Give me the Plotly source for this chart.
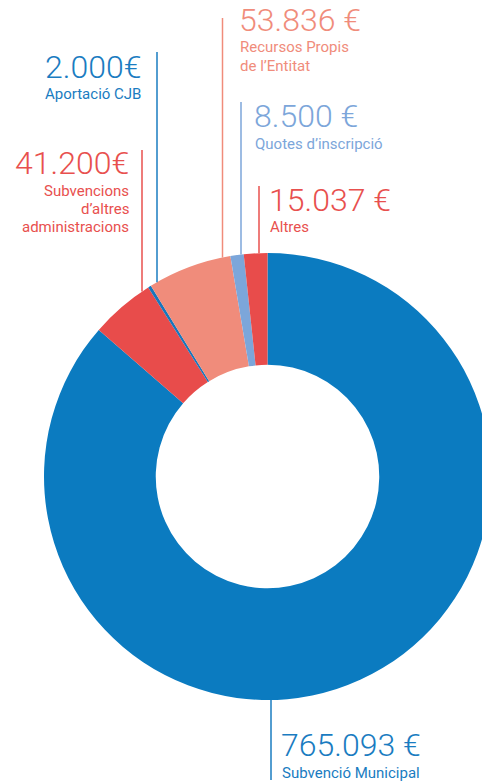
import math
import plotly.graph_objects as go

# ---------------- data ----------------
labels = ["Subvenció Municipal", "Subvencions d'altres administracions", "Aportació CJB",
          "Recursos Propis de l'Entitat", "Quotes d'inscripció", "Altres"]
values = [765093, 41200, 2000, 53836, 8500, 15037]
value_text = ["765.093 €", "41.200€", "2.000€", "53.836 €", "8.500 €", "15.037 €"]
desc_lines = [["Subvenció Municipal"],
              ["Subvencions", "d’altres", "administracions"],
              ["Aportació CJB"],
              ["Recursos Propis", "de l’Entitat"],
              ["Quotes d’inscripció"],
              ["Altres"]]
slice_colors = ["#0b7bc0", "#e84c4b", "#1876bc", "#f08c7b", "#7ca6da", "#e84c4b"]
text_colors = ["#1a7cc1", "#e8504e", "#1a7cc1", "#f08c7b", "#7ca6da", "#e8504e"]

# ---------------- layout geometry (pixels) ----------------
W, H = 500, 784
CX, CY, R = 267.5, 476.5, 223.5
HOLE = 0.5
FONT = "Roboto"
BIG, SMALL, LINE_GAP = 32, 15, 18.5

# per label: anchor side, text x, value-text y (cap middle), first desc y, leader x, leader top y
placement = [
    dict(side="left", tx=280, vy=745, dy=773, lx=271, ly=None),
    dict(side="right", tx=130, vy=163, dy=190.5, lx=142, ly=150),
    dict(side="right", tx=142, vy=67.5, dy=94, lx=157, ly=52),
    dict(side="left", tx=238, vy=20, dy=47.5, lx=222.5, ly=18),
    dict(side="left", tx=253, vy=115.5, dy=143.5, lx=241, ly=102),
    dict(side="left", tx=268, vy=200, dy=227.5, lx=259, ly=186),
]


def px(x):
    return x / W


def py(y):
    return 1 - y / H


fig = go.Figure(go.Pie(
    labels=labels, values=values, hole=HOLE, sort=False,
    direction="clockwise", rotation=0,
    marker=dict(colors=slice_colors, line=dict(width=0)),
    textinfo="none", hoverinfo="label+value", showlegend=False,
    domain=dict(x=[px(CX - R), px(CX + R)], y=[py(CY + R), py(CY - R)]),
))

annotations, shapes = [], []
for i, p in enumerate(placement):
    xa = "left" if p["side"] == "left" else "right"
    annotations.append(dict(
        x=px(p["tx"]), y=py(p["vy"]), xref="paper", yref="paper",
        xanchor=xa, yanchor="middle", showarrow=False, text=value_text[i], borderpad=0,
        font=dict(family=FONT, size=BIG, color=text_colors[i], weight=300)))
    for k, line in enumerate(desc_lines[i]):
        annotations.append(dict(
            x=px(p["tx"] + (0 if xa == "right" else 1)), y=py(p["dy"] + k * LINE_GAP),
            xref="paper", yref="paper", xanchor=xa, yanchor="middle", borderpad=0,
            showarrow=False, text=line,
            font=dict(family=FONT, size=SMALL, color=text_colors[i])))
    # leader line to the outer edge of the ring
    dx = p["lx"] - CX
    edge = math.sqrt(R * R - dx * dx)
    if p["ly"] is None:
        y0, y1 = CY + edge, 780
    else:
        y0, y1 = p["ly"], CY - edge
    shapes.append(dict(type="line", xref="paper", yref="paper",
                       x0=px(p["lx"]), x1=px(p["lx"]), y0=py(y0), y1=py(y1),
                       line=dict(color=text_colors[i], width=1.5)))

fig.update_layout(
    width=W, height=H, margin=dict(l=0, r=0, t=0, b=0),
    paper_bgcolor="white", plot_bgcolor="white",
    annotations=annotations, shapes=shapes,
)

fig.write_html("out.html",
               post_script="document.documentElement.style.overflow='hidden';"
                           "document.body.style.overflow='hidden';document.body.style.margin='0';")
